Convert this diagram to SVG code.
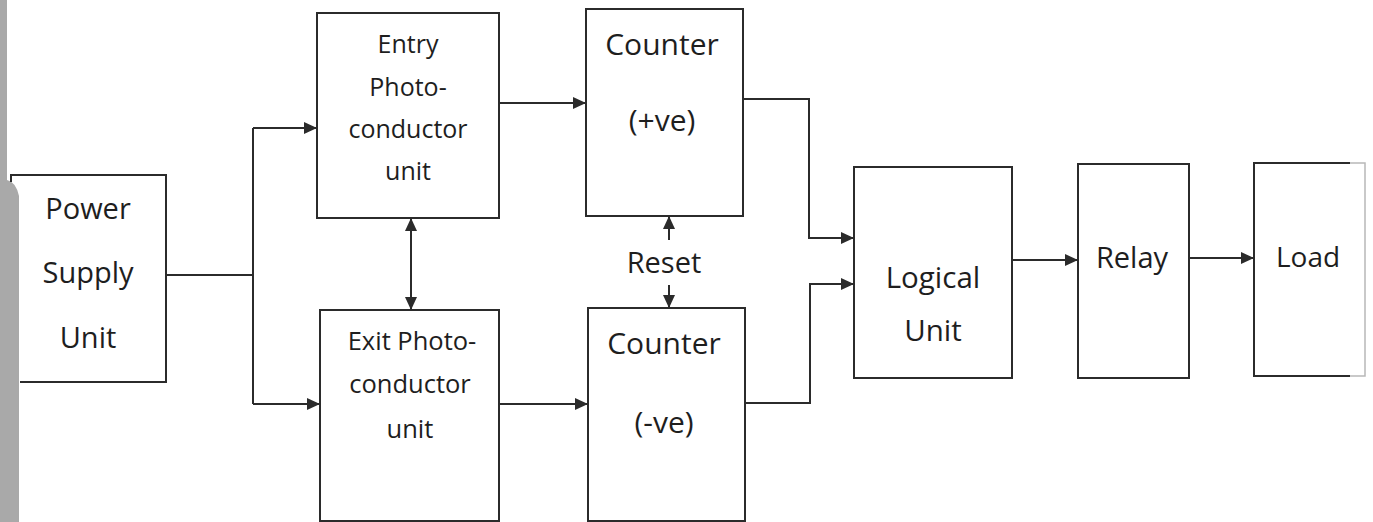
<svg xmlns="http://www.w3.org/2000/svg" width="1373" height="522" viewBox="0 0 1373 522">
<style>
.box{fill:none;stroke:#2b2b2b;stroke-width:2}
.ln{fill:none;stroke:#2b2b2b;stroke-width:2}
.t{font-family:"Open Sans","Liberation Sans",sans-serif;fill:#1e1e1e;text-anchor:middle}
</style>
<defs>
<marker id="ah" viewBox="0 0 13 12" refX="13" refY="6" markerWidth="13" markerHeight="12" markerUnits="userSpaceOnUse" orient="auto-start-reverse">
<path d="M0,0 L13,6 L0,12 z" fill="#2b2b2b"/>
</marker>
</defs>
<rect width="1373" height="522" fill="#ffffff"/>
<path d="M0,0 H7 V180 Q16,182 19,196 V522 H0 Z" fill="#a9a9a9"/>

<g id="power">
<path class="box" d="M11,182 V175 H166 V382 H20"/>
<text class="t" x="88" y="219" font-size="29">Power</text>
<text class="t" x="88" y="283" font-size="29">Supply</text>
<text class="t" x="88" y="348" font-size="29">Unit</text>
</g>

<g id="entry">
<rect class="box" x="317" y="13" width="182" height="205"/>
<text class="t" x="408" y="53" font-size="25">Entry</text>
<text class="t" x="408" y="96" font-size="25">Photo-</text>
<text class="t" x="408" y="138" font-size="25">conductor</text>
<text class="t" x="408" y="180" font-size="25">unit</text>
</g>

<g id="exit">
<rect class="box" x="320" y="310" width="179" height="211"/>
<text class="t" x="412" y="350" font-size="25.5">Exit Photo-</text>
<text class="t" x="410" y="393" font-size="25.5">conductor</text>
<text class="t" x="410" y="438" font-size="25.5">unit</text>
</g>

<g id="counter-pos">
<rect class="box" x="586" y="9" width="157" height="207"/>
<text class="t" x="662" y="55" font-size="30">Counter</text>
<text class="t" x="662" y="131" font-size="30">(+ve)</text>
</g>

<g id="counter-neg">
<rect class="box" x="588" y="308" width="157" height="213"/>
<text class="t" x="664" y="354" font-size="30">Counter</text>
<text class="t" x="664" y="433" font-size="30">(-ve)</text>
</g>

<g id="reset">
<text class="t" x="664" y="273" font-size="29">Reset</text>
</g>

<g id="logical">
<rect class="box" x="854" y="167" width="158" height="211"/>
<text class="t" x="933" y="288" font-size="29.5">Logical</text>
<text class="t" x="933" y="341" font-size="29.5">Unit</text>
</g>

<g id="relay">
<rect class="box" x="1078" y="164" width="111" height="214"/>
<text class="t" x="1132" y="268" font-size="29">Relay</text>
</g>

<g id="load">
<path class="box" d="M1350,163 H1254 V376 H1350"/>
<path d="M1350,163 H1365 V376 H1350" fill="none" stroke="#b8b8b8" stroke-width="1.5"/>
<text class="t" x="1308" y="267" font-size="28">Load</text>
</g>

<g id="connectors">
<path class="ln" d="M166,275 H253"/>
<path class="ln" d="M253,128 V404"/>
<path class="ln" d="M253,128 H317" marker-end="url(#ah)"/>
<path class="ln" d="M253,404 H320" marker-end="url(#ah)"/>
<path class="ln" d="M411,218 V310" marker-start="url(#ah)" marker-end="url(#ah)"/>
<path class="ln" d="M499,103 H586" marker-end="url(#ah)"/>
<path class="ln" d="M499,404 H588" marker-end="url(#ah)"/>
<path class="ln" d="M669,240 V216" marker-end="url(#ah)"/>
<path class="ln" d="M669,285 V308" marker-end="url(#ah)"/>
<path class="ln" d="M743,99 H809 V238 H854" marker-end="url(#ah)"/>
<path class="ln" d="M745,403 H810 V284 H854" marker-end="url(#ah)"/>
<path class="ln" d="M1012,260 H1078" marker-end="url(#ah)"/>
<path class="ln" d="M1189,258 H1254" marker-end="url(#ah)"/>
</g>
</svg>
